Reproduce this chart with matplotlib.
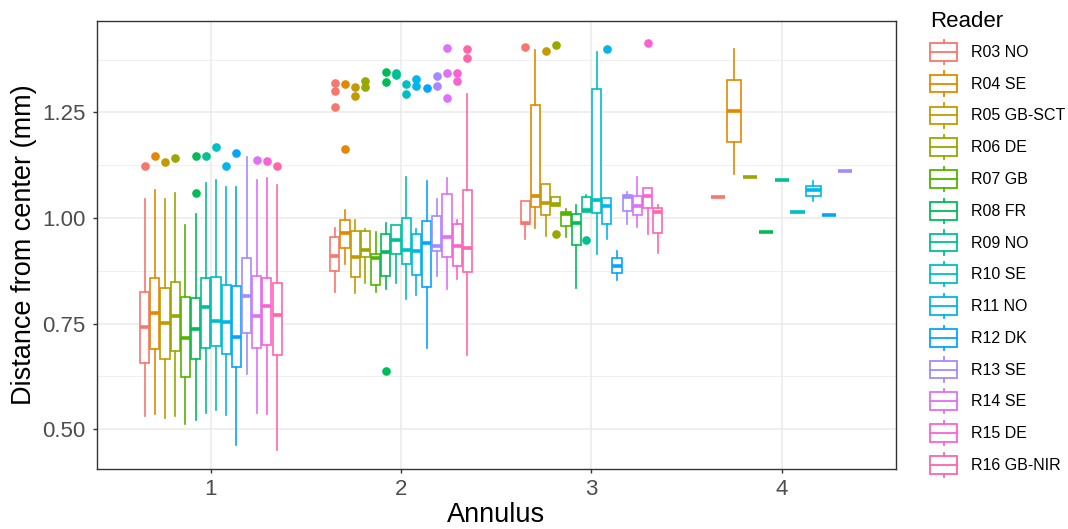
import numpy as np
import matplotlib
matplotlib.use("Agg")
import matplotlib.pyplot as plt
from matplotlib.legend_handler import HandlerBase
from matplotlib.patches import Rectangle
from matplotlib.lines import Line2D

plt.rcParams['font.family'] = ['Liberation Sans', 'DejaVu Sans']

readers = ["R03 NO", "R04 SE", "R05 GB-SCT", "R06 DE", "R07 GB", "R08 FR", "R09 NO",
           "R10 SE", "R11 NO", "R12 DK", "R13 SE", "R14 SE", "R15 DE", "R16 GB-NIR"]
annuli = [1, 2, 3, 4]

# (whisker low, q1, median, q3, whisker high) per reader
ann1_stats = [(0.531, 0.657, 0.743, 0.825, 1.045), (0.535, 0.690, 0.774, 0.858, 1.065),
              (0.527, 0.665, 0.752, 0.834, 1.046), (0.532, 0.686, 0.768, 0.848, 1.058),
              (0.513, 0.623, 0.715, 0.814, 0.983), (0.522, 0.666, 0.738, 0.810, 1.009),
              (0.539, 0.693, 0.789, 0.858, 1.083), (0.546, 0.697, 0.756, 0.860, 1.091),
              (0.534, 0.678, 0.754, 0.841, 1.073), (0.462, 0.647, 0.717, 0.840, 1.073),
              (0.630, 0.727, 0.816, 0.905, 1.145), (0.539, 0.692, 0.768, 0.863, 1.091),
              (0.535, 0.699, 0.791, 0.858, 1.095), (0.450, 0.676, 0.770, 0.846, 1.077)]
ann1_out = [[1.123], [1.147], [1.133], [1.141], [], [1.147, 1.059], [1.147],
            [1.168], [1.124], [1.153], [], [1.136], [1.135], [1.124]]

ann2_stats = [(0.825, 0.874, 0.911, 0.954, 0.976), (0.890, 0.928, 0.964, 0.995, 1.019),
              (0.822, 0.860, 0.907, 0.968, 0.994), (0.845, 0.907, 0.925, 0.968, 0.975),
              (0.825, 0.841, 0.906, 0.914, 0.966), (0.831, 0.862, 0.920, 0.962, 0.987),
              (0.847, 0.914, 0.947, 0.984, 0.984), (0.807, 0.890, 0.925, 1.000, 1.098),
              (0.818, 0.866, 0.922, 0.963, 0.975), (0.693, 0.836, 0.940, 0.992, 1.087),
              (0.862, 0.921, 0.933, 1.004, 1.044), (0.831, 0.908, 0.955, 1.057, 1.094),
              (0.855, 0.886, 0.933, 0.986, 0.994), (0.676, 0.873, 0.930, 1.065, 1.294)]
ann2_out = [[1.320, 1.300, 1.262], [1.317, 1.164], [1.311, 1.289], [1.325, 1.309], [],
            [1.346, 1.321, 0.638], [1.344, 1.338], [1.317, 1.294], [1.329, 1.313],
            [1.308], [1.337, 1.312], [1.403, 1.344, 1.285], [1.344, 1.325], [1.400, 1.378]]

ann3_stats = [(0.949, 0.986, 0.988, 1.039, 1.039), (0.976, 1.026, 1.051, 1.267, 1.397),
              (0.957, 1.007, 1.035, 1.081, 1.081), (1.028, 1.028, 1.033, 1.049, 1.049),
              (0.955, 0.980, 1.009, 1.013, 1.020), (0.835, 0.935, 0.987, 1.010, 1.031),
              (1.013, 1.013, 1.018, 1.049, 1.055), (0.915, 1.012, 1.043, 1.305, 1.392),
              (0.951, 0.986, 1.028, 1.047, 1.047), (0.852, 0.869, 0.886, 0.904, 0.921),
              (0.986, 1.017, 1.050, 1.054, 1.061), (0.978, 1.006, 1.029, 1.053, 1.096),
              (0.963, 1.024, 1.053, 1.072, 1.072), (0.917, 0.964, 1.015, 1.024, 1.031)]
ann3_out = [[1.404], [], [1.395], [1.409, 0.963], [], [], [0.948], [], [1.399], [],
            [], [], [1.415], []]

ann4_readers = ["R03 NO", "R04 SE", "R06 DE", "R08 FR", "R09 NO", "R10 SE",
                "R11 NO", "R12 DK", "R13 SE"]
ann4_stats = [(1.049,) * 5, (1.105, 1.179, 1.253, 1.326, 1.401), (1.097,) * 5,
              (0.967,) * 5, (1.090,) * 5, (1.013,) * 5,
              (1.041, 1.052, 1.065, 1.075, 1.087), (1.006,) * 5, (1.110,) * 5]
ann4_out = [[] for _ in ann4_readers]


def hue_pal(n, c=100.0, l=65.0):
    # ggplot2 default discrete hue palette (polar LUV -> sRGB)
    hues = 15 + np.arange(n) * 360.0 / n
    Y = 100.0 * ((l + 16) / 116) ** 3
    out = []
    for h in hues:
        U = c * np.cos(np.radians(h))
        V = c * np.sin(np.radians(h))
        u = U / (13 * l) + 0.1978398
        v = V / (13 * l) + 0.4683363
        X = 9.0 * Y * u / (4 * v)
        Z = -X / 3 - 5 * Y + 3 * Y / v
        rgb = np.array([3.240479 * X - 1.537150 * Y - 0.498535 * Z,
                        -0.969256 * X + 1.875992 * Y + 0.041556 * Z,
                        0.055648 * X - 0.204043 * Y + 1.057311 * Z]) / 100.0
        rgb = np.where(rgb > 0.00304, 1.055 * np.abs(rgb) ** (1 / 2.4) - 0.055, 12.92 * rgb)
        out.append(tuple(np.clip(rgb, 0, 1)))
    return out


colors = dict(zip(readers, hue_pal(len(readers))))


class BoxHandler(HandlerBase):
    def create_artists(self, legend, orig_handle, xdescent, ydescent, width, height,
                       fontsize, trans):
        col = orig_handle.get_color()
        x0, y0 = -xdescent, -ydescent
        lw = 1.3
        rect = Rectangle((x0, y0 + height * 0.135), width, height * 0.73, fc='white',
                         ec=col, lw=lw, transform=trans)
        med = Line2D([x0, x0 + width], [y0 + height / 2] * 2, color=col, lw=lw, transform=trans)
        w1 = Line2D([x0 + width / 2] * 2, [y0, y0 + height * 0.135],
                    color=col, lw=lw, transform=trans)
        w2 = Line2D([x0 + width / 2] * 2, [y0 + height * 0.865, y0 + height],
                    color=col, lw=lw, transform=trans)
        return [rect, med, w1, w2]


fig = plt.figure(figsize=(10.68, 5.29), dpi=100)
ax = fig.add_axes([0.0905, 0.1129, 0.7484, 0.848])

groups = [(readers, ann1_stats, ann1_out), (readers, ann2_stats, ann2_out),
          (readers, ann3_stats, ann3_out), (ann4_readers, ann4_stats, ann4_out)]

for a, (names, stats, outs) in zip(annuli, groups):
    n = len(names)
    step = 0.75 / n
    for i, (name, st, o) in enumerate(zip(names, stats, outs)):
        pos = a + (i - (n - 1) / 2) * step
        col = colors[name]
        bstat = dict(whislo=st[0], q1=st[1], med=st[2], q3=st[3], whishi=st[4], fliers=o)
        ax.bxp([bstat], positions=[pos], widths=step * 0.9, showcaps=False,
               patch_artist=True, manage_ticks=False,
               boxprops=dict(facecolor='white', edgecolor=col, linewidth=1.2),
               medianprops=dict(color=col, linewidth=2.6, solid_capstyle='butt'),
               whiskerprops=dict(color=col, linewidth=1.2),
               flierprops=dict(marker='o', markerfacecolor=col, markeredgecolor=col,
                               markersize=5.2, linestyle='none'))

ax.set_xlim(0.4, 4.6)
ax.set_ylim(0.405, 1.467)
ax.set_xticks(annuli)
ax.set_xticklabels([str(a) for a in annuli])
ax.set_yticks([0.5, 0.75, 1.0, 1.25])
ax.set_yticklabels(["0.50", "0.75", "1.00", "1.25"])
ax.set_yticks([0.625, 0.875, 1.125, 1.375], minor=True)
ax.grid(True, which='major', color='#EBEBEB', linewidth=1.1)
ax.grid(True, which='minor', axis='y', color='#EBEBEB', linewidth=0.55)
ax.set_axisbelow(True)
ax.tick_params(axis='both', which='major', labelsize=16, labelcolor='#4D4D4D',
               color='#333333', length=3.2, width=1.0)
ax.tick_params(axis='x', which='major', pad=3.6)
ax.tick_params(axis='y', which='major', pad=4.8)
ax.tick_params(axis='y', which='minor', length=0)
for sp in ax.spines.values():
    sp.set_color('#333333')
    sp.set_linewidth(1.0)

ax.set_xlabel("Annulus", fontsize=19.5, labelpad=2)
ax.set_ylabel("Distance from center (mm)", fontsize=19.5, labelpad=4)

handles = [Line2D([], [], color=colors[r]) for r in readers]
fig.legend(handles, readers, handler_map={Line2D: BoxHandler()}, loc='upper left',
           bbox_to_anchor=(0.8573, 1.006), frameon=False, title="Reader", alignment='left',
           fontsize=11.5, title_fontsize=16, handlelength=1.7, handleheight=1.96,
           labelspacing=0.47, handletextpad=0.875, borderpad=0.4)

fig.savefig("out.png", dpi=100)
